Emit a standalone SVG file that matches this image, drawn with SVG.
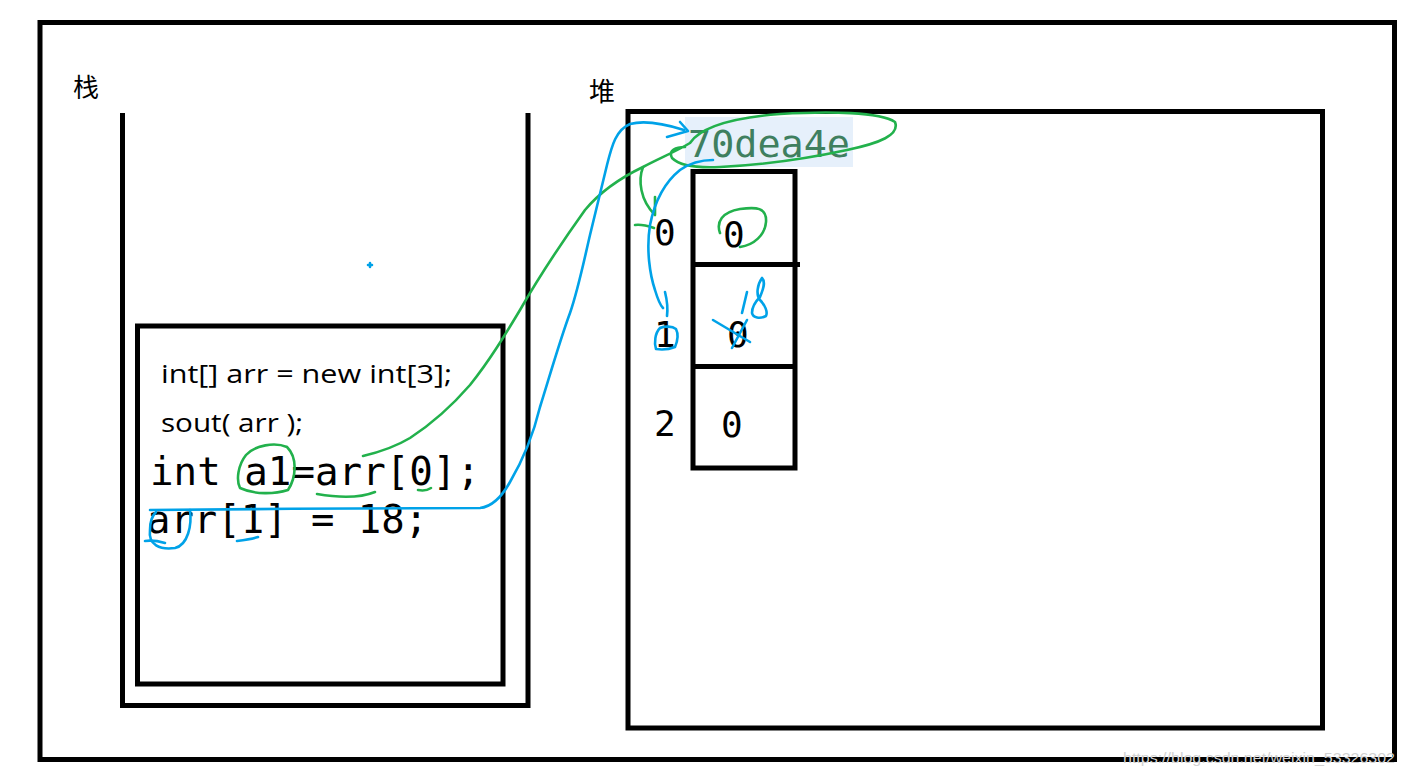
<svg xmlns="http://www.w3.org/2000/svg" width="1406" height="777" viewBox="0 0 1406 777">
<style>
.box{fill:none;stroke:#000;stroke-width:5}
.cjk{font-family:"Noto Sans CJK SC","Noto Sans",sans-serif;font-size:26px;fill:#000}
.code{font-family:"Open Sans","Liberation Sans",sans-serif;font-size:26px;fill:#000}
.mono{font-family:"DejaVu Sans Mono","Liberation Mono",monospace;fill:#000}
.g{fill:none;stroke:#22b14c;stroke-width:2.6;stroke-linecap:round;stroke-linejoin:round}
.b{fill:none;stroke:#00a2e8;stroke-width:2.6;stroke-linecap:round;stroke-linejoin:round}
</style>
<rect width="1406" height="777" fill="#fff"/>
<g id="frame">
<rect class="box" x="40" y="22.5" width="1354.5" height="737"/>
</g>
<g id="stack">
<text class="cjk" x="73" y="97">栈</text>
<path class="box" d="M122.5,113 V705.5 H528 V113"/>
</g>
<g id="code-box">
<rect class="box" x="137.5" y="326" width="365.5" height="358"/>
<text class="code" x="161" y="383" textLength="291" lengthAdjust="spacingAndGlyphs">int[] arr = new int[3];</text>
<text class="code" x="161" y="432" textLength="142" lengthAdjust="spacingAndGlyphs">sout( arr );</text>
<text class="mono" x="150" y="485" font-size="39" textLength="330" lengthAdjust="spacingAndGlyphs">int a1=arr[0];</text>
<text class="mono" x="147" y="533" font-size="39" textLength="281" lengthAdjust="spacingAndGlyphs">arr[1] = 18;</text>
</g>
<g id="heap">
<text class="cjk" x="589" y="101">堆</text>
<rect class="box" x="628" y="111.5" width="694.5" height="616.5"/>
<rect x="685" y="117" width="168" height="50" fill="#e6f0fb"/>
<text class="mono" x="688" y="157" font-size="38" fill="#3f7f5f" style="fill:#3f7f5f" textLength="162" lengthAdjust="spacingAndGlyphs">70dea4e</text>
</g>
<g id="array">
<rect class="box" x="693" y="171.5" width="102" height="296.5"/>
<line class="box" x1="693" y1="264.5" x2="800" y2="264.5"/>
<line class="box" x1="693" y1="366.5" x2="795" y2="366.5"/>
<text class="mono" x="654" y="245" font-size="36">0</text>
<text class="mono" x="654" y="347" font-size="36">1</text>
<text class="mono" x="654" y="436" font-size="36">2</text>
<text class="mono" x="723" y="247" font-size="36">0</text>
<text class="mono" x="727" y="347" font-size="36">0</text>
<text class="mono" x="721" y="437" font-size="36">0</text>
</g>
<g id="connectors">
<path class="g" d="M363,456 C380,452 395,447 410,438 C430,425 450,408 470,385 C490,360 505,335 520,310 C540,275 560,245 585,210 C600,192 620,178 643,167 C660,158 675,152 690,143 C700,128 730,118 780,114 C830,111 880,112 895,122 C900,135 880,143 847,150 C810,158 760,165 720,167 C700,168 680,166 672,158 C668,150 676,147 685,147"/>
<path class="g" d="M643,167 C638,180 640,200 655,215"/>
<path class="g" d="M655,197 L655,214"/>
<path class="g" d="M635,225 C642,224 648,226 654,228"/>
<path class="g" d="M720,233 C716,222 722,212 740,209 C756,207 767,207 766,222 C765,235 754,245 740,247"/>
<path class="g" d="M287,447 C275,442 255,445 246,455 C238,465 236,480 240,488 C255,495 275,494 288,490 C296,478 298,458 287,447"/>
<path class="g" d="M317,494 C340,498 360,498 375,492"/>
<path class="g" d="M418,490 C423,491 428,490 431,488"/>
<path class="b" d="M150,510 C250,509 400,508 480,508 C490,507 500,500 510,482 C520,465 532,440 540,407 C550,375 560,340 570,313 C578,290 583,265 590,235 C596,210 602,185 607,165 C612,145 616,130 630,124 C645,120 665,124 684,130"/>
<path class="b" d="M680,122 L688,131 L667,137"/>
<path class="b" d="M190,510 C192,525 188,545 175,548 C160,550 148,545 150,530 C150,522 152,516 156,512"/>
<path class="b" d="M145,541 C152,540 158,541 165,543"/>
<path class="b" d="M237,541 C245,540 252,539 258,537"/>
<path class="b" d="M713,160 C700,160 690,163 680,170 C665,182 655,200 650,225 C646,250 650,275 655,290 C658,300 660,305 663,308"/>
<path class="b" d="M665,292 C667,300 668,308 667,316"/>
<path class="b" d="M660,328 C655,333 654,343 656,349 C663,350 670,349 675,347 C678,340 678,333 676,329 C672,326 665,326 660,328"/>
<path class="b" d="M747,292 L742,313"/>
<path class="b" d="M762,278 C757,285 756,295 760,300 C765,305 768,312 766,316 C760,319 753,318 752,313 C752,306 757,300 760,297 C763,290 766,282 762,278"/>
<path class="b" d="M713,320 L750,342 M747,320 L732,348"/>
<path class="b" stroke-width="1.6" d="M368,265 L372,265 M370,263 L370,267"/>
</g>
<text x="1123" y="763" font-family="Liberation Sans, Arial, sans-serif" font-size="15" fill="#d2d2d2" textLength="272" lengthAdjust="spacingAndGlyphs">https://blog.csdn.net/weixin_53326302</text>
</svg>
